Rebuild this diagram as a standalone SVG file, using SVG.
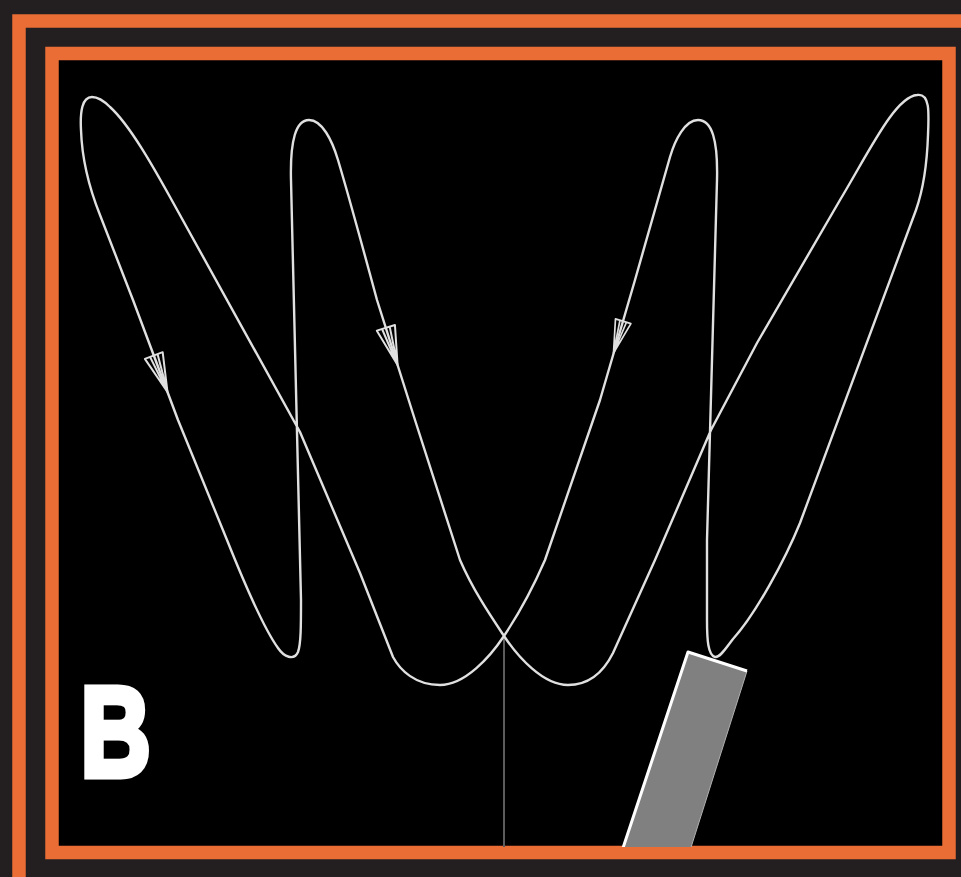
<svg xmlns="http://www.w3.org/2000/svg" width="961" height="877" viewBox="0 0 961 877">
  <style>
    .frame { fill: none; stroke: #e96d34; stroke-width: 13.5; }
    .curve { fill: none; stroke: #e0e0e0; stroke-width: 2.4; stroke-linejoin: round; stroke-linecap: round; }
    .arrow { fill: none; stroke: #e0e0e0; stroke-width: 2; stroke-linejoin: round; }
    .label { font-family: "Liberation Sans", Arial, sans-serif; font-weight: bold; font-size: 128px; fill: #ffffff; stroke: #ffffff; stroke-width: 7; stroke-linejoin: miter; }
  </style>
  <defs>
    <path id="arrowhead" d="M0,0 L-39,-9.5 L-39,9.5 Z M0,0 L-39,-4 M0,0 L-39,4"/>
    <clipPath id="inner">
      <rect x="59" y="60" width="884" height="787"/>
    </clipPath>
  </defs>

  <rect x="0" y="0" width="961" height="877" fill="#231f20"/>
  <g id="outer-frame">
    <rect class="frame" x="19" y="21" width="1000" height="1000"/>
  </g>
  <g id="inner-frame">
    <rect x="52" y="53.5" width="897" height="799" fill="#000000"/>
    <rect class="frame" x="52" y="53.5" width="897" height="799"/>
  </g>

  <g id="center-line">
    <line x1="504" y1="636" x2="504" y2="847" stroke="#5c5c5c" stroke-width="2"/>
  </g>

  <g id="connectors">
    <path class="curve" d="M92,97 C82,97 80,112 81,130 C82,160 88,185 100,215 L133,300 L178,420 L227,540 C245,585 265,630 278,648 C284,657 294,661 298,652 C301,644 301,625 301,600 L291,180 C290,140 296,120 309,120 C322,120 332,140 338,160 C350,200 362,245 377,300 L415,420 L460,560 C473,590 490,615 504,636 C518,657 543,685 568,685 C588,685 603,673 613,653 L655,560 L711,430 L757,343 L840,200 C870,150 895,97 917,95 C930,93 929,112 928,135 C927,165 923,190 916,210 L800,523 C785,560 755,615 733,639 C726,648 720,658 715,657 C708,655 707,640 707,620 L707,540 L717,180 C718,140 712,120 698,120 C685,120 675,140 670,157 C665,175 655,210 635,280 L600,400 L545,560 C532,590 518,615 504,636 C490,657 465,685 440,685 C415,685 400,670 393,657 L360,573 L300,432 L170,197 C155,170 130,125 110,107 C103,100 98,97 92,97 Z"/>
    <use href="#arrowhead" class="arrow" transform="translate(167.5,392) rotate(69.4)"/>
    <use href="#arrowhead" class="arrow" transform="translate(397.6,365) rotate(72.5)"/>
    <use href="#arrowhead" class="arrow" transform="translate(613.5,353) rotate(107) scale(0.85)"/>
  </g>

  <g id="bar" clip-path="url(#inner)">
    <polygon points="688,652 747,671 687,860 619,860" fill="#808080" stroke="#b0b0b0" stroke-width="1"/>
    <polyline points="619,860 688,652 747,671" fill="none" stroke="#ffffff" stroke-width="3" stroke-linejoin="round"/>
  </g>

  <g id="label-B">
    <text class="label" transform="translate(80.5,775.5) scale(0.76,1)" x="0" y="0">B</text>
  </g>
</svg>
